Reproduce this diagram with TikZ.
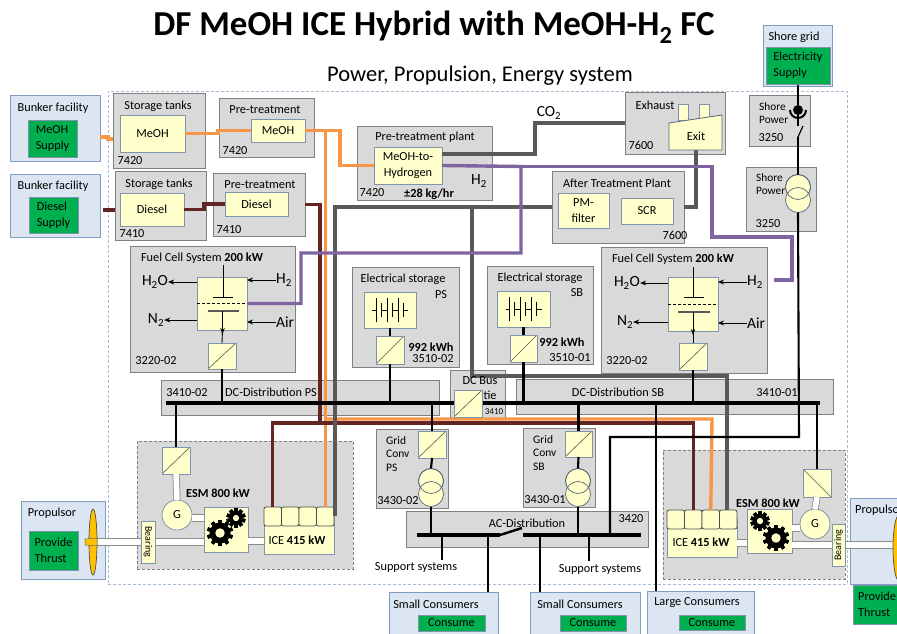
\documentclass[tikz,border=0pt]{standalone}
\usepackage{fontspec}
\setmainfont{Carlito}
\usetikzlibrary{arrows.meta,shapes.geometric}
\definecolor{panelgray}{HTML}{D9D9D9}
\definecolor{paneledge}{HTML}{808080}
\definecolor{ylwfill}{HTML}{FFFFCC}
\definecolor{ylwedge}{HTML}{7F93AB}
\definecolor{bluefill}{HTML}{DCE6F2}
\definecolor{blueedge}{HTML}{7F9DC0}
\definecolor{greenfill}{HTML}{00B050}
\definecolor{meohline}{HTML}{F79646}
\definecolor{dieselline}{HTML}{632523}
\definecolor{hydline}{HTML}{8064A2}
\definecolor{co2line}{HTML}{595959}
\definecolor{propfill}{HTML}{FFC000}
\newcommand{\blk}[7]{\node[#1,minimum width={((#5)-(#3))*1pt},minimum height={((#6)-(#4))*1pt}] (#2) at ({((#3)+(#5))/2},{((#4)+(#6))/2}) {#7};}
\newcommand{\gearicon}[3]{%
  \foreach \a in {0,36,...,324}
    \fill[rotate around={\a:(#1,#2)}] (#1-1.8,#2-#3-2.6) rectangle (#1+1.8,#2+#3+2.6);
  \fill (#1,#2) circle (#3);
  \fill[ylwfill] (#1,#2) circle (#3*0.45);}
\newcommand{\battery}[2]{%
  \draw[batline] (#1-18,#2) -- (#1-14,#2) (#1-9,#2) -- (#1-3,#2) (#1+2,#2) -- (#1+8,#2) (#1+13,#2) -- (#1+18,#2);
  \foreach \p in {-14,-3,8} \draw[batline] (#1+\p,#2-12) -- (#1+\p,#2+12);
  \foreach \p in {-9,2,13} \draw[batline] (#1+\p,#2-7) -- (#1+\p,#2+7);}
\tikzset{
  panel/.style={draw=paneledge,fill=panelgray,line width=.8pt,inner sep=0pt,outer sep=0pt},
  dashpanel/.style={panel,densely dashed},
  ylwbox/.style={draw=ylwedge,fill=ylwfill,line width=.8pt,inner sep=0pt,outer sep=0pt,align=center},
  bluebox/.style={draw=blueedge,fill=bluefill,line width=.8pt,inner sep=0pt,outer sep=0pt},
  greenbox/.style={draw=ylwedge,fill=greenfill,line width=.6pt,inner sep=0pt,outer sep=0pt,align=left},
  conv/.style={ylwbox,path picture={\draw[co2line,line width=.6pt] (path picture bounding box.south west) -- (path picture bounding box.north east);}},
  convr/.style={ylwbox,path picture={\draw[co2line,line width=.6pt] (path picture bounding box.north west) -- (path picture bounding box.south east);}},
  cylbox/.style={draw=black!70,fill=ylwfill,line width=.8pt,rounded corners=2pt,inner sep=0pt,outer sep=0pt},
  xfmr/.style={circle,draw=ylwedge!70!black,fill=ylwfill,line width=.7pt,minimum size=25pt,inner sep=0pt,outer sep=0pt},
  xfmrtop/.style={circle,draw=ylwedge!70!black,line width=.7pt,minimum size=25pt,inner sep=0pt,outer sep=0pt},
  gen/.style={circle,draw=ylwedge,fill=ylwfill,line width=.8pt,minimum size=30pt,inner sep=0pt,outer sep=0pt},
  lbl/.style={inner sep=0pt,align=left},
  chemlbl/.style={lbl,font=\fontsize{15.5}{16}\selectfont},
  meoh/.style={meohline,line width=3.4pt},
  diesel/.style={dieselline,line width=3.4pt},
  hyd/.style={hydline,line width=3.4pt},
  co2/.style={co2line,line width=3.4pt},
  wire/.style={black,line width=2.1pt},
  bus/.style={black,line width=4pt},
  arr/.style={black,line width=.9pt,-{Stealth[length=6pt,width=5pt]}},
  shaft/.style={black!45,line width=.8pt,double=white,double distance=5.5pt},
  batline/.style={black,line width=1pt},
  prop/.style={ellipse,draw=black!70,fill=propfill,line width=.7pt,inner sep=0pt,outer sep=0pt},
}
\begin{document}
\begin{tikzpicture}[>=Stealth,x=1pt,y=-1pt,font=\fontsize{12.3}{16}\selectfont]
  \useasboundingbox (0,0) rectangle (897,634);
  \node[font=\fontsize{35}{38}\selectfont\bfseries,inner sep=0pt] (title) at (434,27) {DF MeOH ICE Hybrid with MeOH-H\textsubscript{2} FC};
  \node[font=\fontsize{22.5}{26}\selectfont,inner sep=0pt] (subtitle) at (480,76) {Power, Propulsion, Energy system};
  \blk{draw=blueedge!70,densely dashed,line width=.6pt}{frame}{108}{91}{847}{584}{}
  % supply and consumer boxes
  \blk{bluebox}{bkM}{10}{95}{100}{161}{}
  \blk{bluebox}{bkD}{10}{174}{100}{237}{}
  \blk{bluebox}{sgrid}{763}{25}{832}{86}{}
  \blk{bluebox}{prP}{21}{501}{105}{579}{}
  \blk{bluebox}{prS}{850}{498}{910}{584}{}
  \blk{bluebox}{csA}{389}{592}{498}{650}{}
  \blk{bluebox}{csB}{530}{592}{640}{650}{}
  \blk{bluebox}{csL}{647}{591}{754}{650}{}
  % grey panels
  \blk{panel}{tkM}{113}{93}{205}{168}{}
  \blk{panel}{ptM}{219}{98}{314}{157}{}
  \blk{panel}{tkD}{115}{171}{206}{240}{}
  \blk{panel}{ptD}{213}{173}{305}{236}{}
  \blk{panel}{plant}{357}{126}{492}{200}{}
  \blk{panel}{exh}{625}{92}{725}{154}{}
  \blk{panel}{shA}{749}{95}{810}{146}{}
  \blk{panel}{shB}{746}{167}{816}{231}{}
  \blk{panel}{atp}{552}{171}{684}{243}{}
  \blk{panel}{fcPp}{130}{246}{295}{372}{}
  \blk{panel}{fcSp}{601}{247}{767}{373}{}
  \blk{panel}{esP}{352}{267}{459}{367}{}
  \blk{panel}{esS}{487}{266}{593}{364}{}
  \blk{panel}{dcP}{161}{380}{439}{415}{}
  \blk{panel}{dcT}{450}{370}{505}{418}{}
  \blk{panel}{dcS}{516}{379}{833}{414}{}
  \blk{panel}{gcP}{376}{429}{448}{508}{}
  \blk{panel}{gcS}{523}{428}{595}{507}{}
  \blk{panel}{acd}{406}{511}{648}{547}{}
  \blk{dashpanel}{esmP}{137}{441}{353}{569}{}
  \blk{dashpanel}{esmS}{663}{450}{845}{579}{}
  % engines and machines, so that lines can end on them
  \blk{ylwbox}{iceP}{264}{516}{334}{554}{}
  \blk{ylwbox}{iceS}{667}{519}{737}{557}{}
  \foreach \i in {0,...,3} {
    \blk{cylbox}{cylP\i}{264+17.5*\i}{507}{281.5+17.5*\i}{526}{}
    \blk{cylbox}{cylS\i}{667+17.5*\i}{510}{684.5+17.5*\i}{529}{}
  }
  \blk{ylwbox}{gbP}{204}{507}{248}{552}{}
  \blk{ylwbox}{gbS}{747}{509}{792}{553}{}
  \node[gen] (genP) at (177,515) {G};
  \node[gen] (genS) at (815,524) {G};
  \blk{ylwbox}{yMt}{120}{115}{185}{152}{MeOH}
  \blk{ylwbox}{yMp}{251}{119}{305}{142}{MeOH}
  \blk{ylwbox}{yDt}{120}{193}{184}{226}{Diesel}
  \blk{ylwbox}{yDp}{225}{192}{288}{216}{Diesel}
  \blk{ylwbox}{yH}{374}{147}{442}{184}{MeOH-to-\\Hydrogen}
  \blk{ylwbox}{yPm}{558}{193}{609}{228}{PM-\\filter}
  \blk{ylwbox}{yScr}{621}{198}{673}{224}{SCR}
  \blk{ylwbox}{fcP}{197}{277}{247}{330}{}
  \blk{ylwbox}{fcS}{668}{277}{718}{331}{}
  % fuel lines
  \coordinate (mA) at (100,137);
  \coordinate (dA) at (103,210);
  \draw[meoh] (mA) -- (108,137) -- (108,139) -- (113,139);
  \draw[meoh] (yMt.east) -- (218,133.5) -- (218,130.5) -- (yMp.west);
  \draw[meoh] (yMp.east) -- (340,130.5) -- (340,165.5) -- (yH.west);
  \draw[meoh] (325.25,130.5) -- (cylP3.north);
  \draw[meoh] (325.25,419) -- (712,419) -- (cylS2.north);
  \draw[diesel] (dA) -- (tkD.west |- dA);
  \draw[diesel] (yDt.east) -- (204,209.5) -- (204,204) -- (yDp.west);
  \draw[diesel] (ptD.east) -- (320,204.5) -- (320,423) -- (272.75,423) -- (cylP0.north);
  \draw[diesel] (320,423) -- (693.25,423) -- (cylS1.north);
  \draw[co2] (yH.east |- 0,154) -- (535,154) -- (535,123) -- (exh.west |- 0,123);
  \draw[co2] (atp.west) -- (335,207) -- (335,516);
  \draw[co2] (472,207) -- (472,376) -- (727,376) -- (cylS3.north -| 727,0);
  \draw[co2] (atp.east) -- (696,207) -- (696,150);
  \draw[hyd] (fcP.east) -- (301,303.5) -- (301,253) -- (521,253) -- (521,166.5) -- (yH.east);
  \draw[hyd] (521,166.5) -- (712,166.5) -- (712,237) -- (792,237) -- (792,280) -- (774,280);
  % exhaust stack
  \fill[ylwfill,draw=ylwedge,line width=.8pt] (678,104) rectangle (688,120);
  \fill[ylwfill,draw=ylwedge,line width=.8pt] (699,104) rectangle (709,118);
  \draw[fill=ylwfill,draw=ylwedge!70!black,line width=.8pt] (669,123) -- (722,115) -- (722,150) -- (669,150) -- cycle;
  \node[lbl] (lExit) at (696,136) {Exit};
  % electrical lines
  \draw[bus] (166,403) -- (820,403);
  \blk{conv}{cvFcP}{208}{343}{236}{369}{}
  \blk{conv}{cvFcS}{679}{343}{707}{370}{}
  \blk{conv}{cvEsP}{376}{336}{404}{364}{}
  \blk{conv}{cvEsS}{510}{335}{537}{362}{}
  \blk{conv}{cvTie}{454}{390}{482}{417}{}
  \blk{conv}{cvGcP}{418}{431}{446}{458}{}
  \blk{conv}{cvGcS}{565}{431}{592}{457}{}
  \blk{conv}{cvEsmP}{162}{447}{190}{474}{}
  \blk{convr}{cvEsmS}{803}{469}{831}{497}{}
  \blk{ylwbox}{batP}{364}{292}{416}{328}{}
  \blk{ylwbox}{batS}{497}{291}{550}{327}{}
  \battery{390}{310}
  \battery{523.5}{309}
  \node[xfmr] (tfPa) at (431,481) {};
  \node[xfmr] (tfPb) at (431,494) {};
  \node[xfmrtop] (tfPc) at (431,481) {};
  \node[xfmr] (tfSa) at (578,481) {};
  \node[xfmr] (tfSb) at (578,494) {};
  \node[xfmrtop] (tfSc) at (578,481) {};
  \node[xfmr] (tfGa) at (798,187) {};
  \node[xfmr] (tfGb) at (798,200) {};
  \node[xfmrtop] (tfGc) at (798,187) {};
  \draw[wire] (cvFcP.south) -- (222,403);
  \draw[wire] (cvEsP.south) -- (390,403);
  \draw[wire] (cvEsS.south) -- (523.5,403);
  \draw[wire] (cvFcS.south) -- (693,403);
  \draw[wire] (batP.south) -- (cvEsP.north);
  \draw[wire] (batS.south) -- (cvEsS.north);
  \draw[wire] (176,403) -- (cvEsmP.north);
  \draw[wire] (817,403) -- (cvEsmS.north);
  \draw[wire] (432,403) -- (cvGcP.north);
  \draw[wire] (578.5,403) -- (cvGcS.north);
  \draw[wire] (cvGcP.south) -- (tfPa.north);
  \draw[wire] (cvGcS.south) -- (tfSa.north);
  \draw[wire] (656,403) -- (656,591);
  \draw[wire] (tfPb.south) -- (431,535);
  \draw[wire] (tfSb.south) -- (578,535);
  \draw[wire] (tfGb.south) -- (799,437) -- (610,437) -- (610,535);
  \draw[wire] (442,535) -- (442,560);
  \draw[wire] (589,535) -- (589,561);
  \draw[wire] (488,535) -- (488,592);
  \draw[wire] (540,535) -- (540,592);
  \draw[bus] (417,535) -- (500,535);
  \draw[bus] (523,535) -- (641,535);
  \draw[line width=2.4pt] (500,535) -- (522,528);
  % shore connection
  \node[circle,fill=black,minimum size=10pt,inner sep=0pt,outer sep=0pt] (sock) at (798,110) {};
  \draw[line width=2pt] (790,110) arc (180:0:8);
  \coordinate (brkA) at (798,126);
  \coordinate (brkB) at (798,137);
  \coordinate (brkC) at (803,126);
  \draw[wire] (798,84) -- (sock.north);
  \draw[wire] (sock.south) -- (brkA);
  \draw[line width=1.2pt] (brkB) -- (brkC);
  \draw[wire] (brkB) -- (tfGa.north);
  % shafts
  \draw[shaft] (93,542) -- (gbP.west |- 0,542);
  \draw[shaft] (gbP.east |- 0,541) -- (iceP.west |- 0,541);
  \draw[shaft] (genP.east |- 0,518) -- (gbP.west |- 0,518);
  \draw[shaft] (cvEsmP.south) -- (genP.north);
  \draw[shaft] (gbS.east |- 0,545) -- (900,545);
  \draw[shaft] (iceS.east |- 0,543) -- (gbS.west |- 0,543);
  \draw[shaft] (gbS.east |- 0,528) -- (genS.west |- 0,528);
  \draw[shaft] (cvEsmS.south) -- (genS.north);
  \blk{ylwbox,font=\fontsize{10}{11}\selectfont}{brP}{141}{521}{155}{563}{\rotatebox{-90}{Bearing}}
  \blk{ylwbox,font=\fontsize{10}{11}\selectfont}{brS}{832}{524}{845}{566}{\rotatebox{90}{Bearing}}
  \node[prop,minimum width=8pt,minimum height=66pt] (pelP) at (93,542) {};
  \node[prop,minimum width=12pt,minimum height=66pt] (pelS) at (899,548) {};
  \fill[propfill,draw=black!60,line width=.5pt] (85,539) -- (97,538) -- (97,546) -- (85,545) -- cycle;
  \gearicon{220}{533}{10.5}
  \gearicon{236}{518}{7}
  \gearicon{760}{521}{7}
  \gearicon{776}{538}{10.5}
  % fuel cell symbols
  \node[chemlbl] (lH2oP) at (155,282) {H\textsubscript{2}O};
  \node[chemlbl] (lN2P) at (156,320) {N\textsubscript{2}};
  \node[chemlbl] (lH2P) at (284,280) {H\textsubscript{2}};
  \node[chemlbl] (lAirP) at (285,322) {Air};
  \node[chemlbl] (lH2oS) at (627,283) {H\textsubscript{2}O};
  \node[chemlbl] (lN2S) at (625,322) {N\textsubscript{2}};
  \node[chemlbl] (lH2S) at (755,282) {H\textsubscript{2}};
  \node[chemlbl] (lAirS) at (756,323) {Air};
  \draw[arr] (fcP.west |- lH2oP) -- (lH2oP.east);
  \draw[arr] (fcP.west |- lN2P) -- (lN2P.east);
  \draw[arr] (lH2P.west) -- (fcP.east |- lH2P);
  \draw[arr] (lAirP.west) -- (fcP.east |- lAirP);
  \draw[arr] (fcS.west |- lH2oS) -- (lH2oS.east);
  \draw[arr] (fcS.west |- lN2S) -- (lN2S.east);
  \draw[arr] (lH2S.west) -- (fcS.east |- lH2S);
  \draw[arr] (lAirS.west) -- (fcS.east |- lAirS);
  \draw[line width=.9pt] (223,265) -- (223,297) (213,297) -- (233,297);
  \draw[densely dashed,line width=.9pt] (fcP.west) -- (fcP.east);
  \draw[co2line,line width=1.2pt] (208,311) -- (239,311);
  \draw[-{Stealth[length=6pt]},line width=.9pt] (222.5,311) -- (222.5,334);
  \draw[line width=.9pt] (222.5,330) -- (cvFcP.north);
  \draw[line width=.9pt] (693,267) -- (693,297) (684,297) -- (704,297);
  \draw[densely dashed,line width=.9pt] (fcS.west) -- (fcS.east);
  \draw[co2line,line width=1.2pt] (678,312) -- (710,312);
  \draw[-{Stealth[length=6pt]},line width=.9pt] (693,312) -- (693,335);
  \draw[line width=.9pt] (693,330) -- (cvFcS.north);
  % green activity boxes
  \blk{greenbox}{gnMeoh}{28}{120}{77}{157}{MeOH\\Supply}
  \blk{greenbox}{gnDies}{29}{197}{78}{233}{Diesel\\Supply}
  \blk{greenbox}{gnElec}{766}{47}{830}{84}{Electricity\\Supply}
  \blk{greenbox}{gnThrP}{29}{531}{78}{570}{Provide\\Thrust}
  \node[greenbox,minimum width=62pt,minimum height=39pt] (gnThrS) at (884,604.5) {};
  \node[lbl,anchor=west] (lThrS) at (858,604.5) {Provide\\Thrust};
  \blk{greenbox}{gnCsA}{418}{615}{485}{631}{Consume}
  \blk{greenbox}{gnCsB}{560}{615}{626}{631}{Consume}
  \blk{greenbox}{gnCsL}{679}{615}{745}{630}{Consume}
  % texts
  \node[lbl] (t01) at (53,108) {Bunker facility};
  \node[lbl] (t02) at (53,186) {Bunker facility};
  \node[lbl] (t03) at (794,37) {Shore grid};
  \node[lbl] (t04) at (52,513) {Propulsor};
  \node[lbl,anchor=west] (t05) at (855,510) {Propulsor};
  \node[lbl] (t06) at (158,106) {Storage tanks};
  \node[lbl] (t07) at (130,161) {7420};
  \node[lbl] (t08) at (265,110) {Pre-treatment};
  \node[lbl] (t09) at (235,151) {7420};
  \node[lbl] (t10) at (159,184) {Storage tanks};
  \node[lbl] (t11) at (132,234) {7410};
  \node[lbl] (t12) at (260,185) {Pre-treatment};
  \node[lbl] (t13) at (229,230) {7410};
  \node[lbl] (t14) at (202,258) {Fuel Cell System \textbf{200 kW}};
  \node[lbl] (t15) at (156,361) {3220-02};
  \node[lbl] (t16) at (425,137) {Pre-treatment plant};
  \node[lbl] (t17) at (372,193) {7420};
  \node[lbl] (t18) at (429,194) {\textbf{±28 kg/hr}};
  \node[chemlbl] (t19) at (479,181) {H\textsubscript{2}};
  \node[chemlbl] (t20) at (549,113) {CO\textsubscript{2}};
  \node[lbl] (t21) at (655,105) {Exhaust};
  \node[lbl] (t22) at (641,145) {7600};
  \node[lbl,anchor=west,font=\fontsize{11.3}{13.5}\selectfont] (t23) at (759,113) {Shore\\Power};
  \node[lbl] (t24) at (771,138) {3250};
  \node[lbl,anchor=west,font=\fontsize{11.3}{13.5}\selectfont] (t25) at (756,184) {Shore\\Power};
  \node[lbl] (t26) at (768,224) {3250};
  \node[lbl] (t27) at (617,183) {After Treatment Plant};
  \node[lbl] (t28) at (675,235) {7600};
  \node[lbl] (t29) at (673,259) {Fuel Cell System \textbf{200 kW}};
  \node[lbl] (t30) at (627,361) {3220-02};
  \node[lbl] (t31) at (403,279) {Electrical storage};
  \node[lbl] (t32) at (441,295) {PS};
  \node[lbl] (t33) at (431,347) {\textbf{992 kWh}};
  \node[lbl] (t34) at (433,359) {3510-02};
  \node[lbl] (t35) at (540,278) {Electrical storage};
  \node[lbl] (t36) at (577,293) {SB};
  \node[lbl] (t37) at (562,342) {\textbf{992 kWh}};
  \node[lbl] (t38) at (570,358) {3510-01};
  \node[lbl] (t39) at (187,393) {3410-02};
  \node[lbl] (t40) at (271,392) {DC-Distribution PS};
  \node[lbl] (t41) at (480,381) {DC Bus};
  \node[lbl] (t42) at (490,395) {tie};
  \node[lbl,font=\fontsize{9}{10}\selectfont] (t43) at (494,412) {3410};
  \node[lbl] (t44) at (618,392) {DC-Distribution SB};
  \node[lbl] (t45) at (777,393) {3410-01};
  \node[lbl,anchor=west,font=\fontsize{11.5}{13.5}\selectfont] (t46) at (386,454) {Grid\\Conv\\PS};
  \node[lbl] (t47) at (398,501) {3430-02};
  \node[lbl,anchor=west,font=\fontsize{11.5}{13.5}\selectfont] (t48) at (533,453) {Grid\\Conv\\SB};
  \node[lbl] (t49) at (545,500) {3430-01};
  \node[lbl] (t50) at (527,523) {AC-Distribution};
  \node[lbl] (t51) at (631,519) {3420};
  \node[lbl] (t52) at (218,493) {\textbf{ESM 800 kW}};
  \node[lbl] (t53) at (768,503) {\textbf{ESM 800 kW}};
  \node[lbl] (t54) at (297,540) {ICE \textbf{415 kW}};
  \node[lbl] (t55) at (701,542) {ICE \textbf{415 kW}};
  \node[lbl] (t56) at (416,567) {Support systems};
  \node[lbl] (t57) at (600,569) {Support systems};
  \node[lbl] (t58) at (436,604) {Small Consumers};
  \node[lbl] (t59) at (580,604) {Small Consumers};
  \node[lbl] (t60) at (697,603) {Large Consumers};
\end{tikzpicture}
\end{document}
